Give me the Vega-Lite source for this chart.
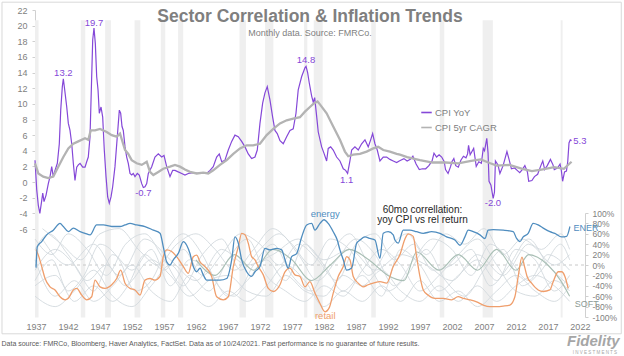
{
"$schema":"https://vega.github.io/schema/vega-lite/v6.json",
"width":550,"height":307,
"autosize":{"type":"none"},
"padding":{"left":35,"top":10,"right":39,"bottom":39},
"background":"white",
"config":{"view":{"stroke":null},"font":"Liberation Sans","axis":{"grid":false,"labelOverlap":false,"labelFlush":false}},
"title":{"text":"Sector Correlation & Inflation Trends","subtitle":"Monthly data. Source: FMRCo.","anchor":"middle","frame":"group","offset":0,"dy":36,"fontSize":17.5,"fontWeight":"bold","color":"#7f7f7f","font":"Liberation Sans","subtitleFont":"Liberation Sans","subtitleFontSize":9,"subtitleColor":"#7f7f7f","subtitlePadding":3},
"datasets":{
"yoy":[{"year":1936.84,"v":2.8},{"year":1937.11,"v":-1.0},{"year":1937.36,"v":-3.0},{"year":1937.6,"v":-4.0},{"year":1937.85,"v":-2.6},{"year":1938.05,"v":-1.4},{"year":1938.25,"v":-2.5},{"year":1938.56,"v":-1.7},{"year":1938.92,"v":-0.2},{"year":1939.19,"v":0.7},{"year":1939.45,"v":1.97},{"year":1939.7,"v":0.7},{"year":1939.97,"v":1.5},{"year":1940.33,"v":2.4},{"year":1940.64,"v":4.9},{"year":1940.86,"v":9.2},{"year":1941.11,"v":12.2},{"year":1941.27,"v":13.2},{"year":1941.48,"v":11.8},{"year":1941.8,"v":9.6},{"year":1942.05,"v":7.5},{"year":1942.31,"v":6.6},{"year":1942.58,"v":4.9},{"year":1942.83,"v":2.4},{"year":1943.09,"v":0.2},{"year":1943.36,"v":1.9},{"year":1943.61,"v":2.2},{"year":1943.88,"v":2.4},{"year":1944.3,"v":1.9},{"year":1944.66,"v":1.9},{"year":1944.92,"v":2.6},{"year":1945.17,"v":3.2},{"year":1945.44,"v":5.8},{"year":1945.7,"v":13.5},{"year":1945.86,"v":18.2},{"year":1946.06,"v":19.7},{"year":1946.27,"v":17.7},{"year":1946.48,"v":13.5},{"year":1946.69,"v":11.8},{"year":1946.89,"v":8.8},{"year":1947.16,"v":9.6},{"year":1947.42,"v":8.3},{"year":1947.67,"v":4.1},{"year":1947.94,"v":0.7},{"year":1948.2,"v":-1.9},{"year":1948.45,"v":-2.7},{"year":1948.72,"v":-1.9},{"year":1948.98,"v":-0.6},{"year":1949.34,"v":1.97},{"year":1949.7,"v":5.8},{"year":1950.02,"v":9.2},{"year":1950.23,"v":8.8},{"year":1950.44,"v":7.1},{"year":1950.64,"v":6.6},{"year":1950.91,"v":4.5},{"year":1951.17,"v":3.2},{"year":1951.42,"v":2.4},{"year":1951.69,"v":1.1},{"year":1951.95,"v":0.9},{"year":1952.2,"v":1.1},{"year":1952.47,"v":0.7},{"year":1952.83,"v":1.1},{"year":1953.14,"v":0.9},{"year":1953.52,"v":-0.2},{"year":1953.77,"v":-0.7},{"year":1954.03,"v":-0.6},{"year":1954.3,"v":-0.2},{"year":1954.55,"v":1.1},{"year":1955.08,"v":1.97},{"year":1955.59,"v":3.2},{"year":1956.11,"v":3.6},{"year":1956.64,"v":3.2},{"year":1957.0,"v":3.4},{"year":1957.42,"v":1.97},{"year":1957.94,"v":0.7},{"year":1958.36,"v":1.5},{"year":1958.72,"v":1.5},{"year":1959.23,"v":1.3},{"year":1959.77,"v":1.1},{"year":1960.28,"v":0.9},{"year":1960.8,"v":1.1},{"year":1961.58,"v":1.2},{"year":1962.36,"v":1.1},{"year":1963.14,"v":1.1},{"year":1963.67,"v":1.1},{"year":1964.19,"v":1.5},{"year":1964.7,"v":1.97},{"year":1965.23,"v":3.2},{"year":1965.64,"v":3.6},{"year":1966.02,"v":2.6},{"year":1966.53,"v":2.8},{"year":1967.05,"v":4.1},{"year":1967.58,"v":5.2},{"year":1968.09,"v":6.0},{"year":1968.61,"v":5.8},{"year":1969.14,"v":5.2},{"year":1969.66,"v":4.5},{"year":1970.17,"v":3.6},{"year":1970.7,"v":3.0},{"year":1971.22,"v":3.2},{"year":1971.58,"v":4.1},{"year":1972.0,"v":7.5},{"year":1972.42,"v":10.1},{"year":1972.78,"v":11.4},{"year":1973.14,"v":12.2},{"year":1973.56,"v":10.5},{"year":1973.98,"v":8.3},{"year":1974.34,"v":6.6},{"year":1974.7,"v":6.2},{"year":1975.13,"v":5.3},{"year":1975.64,"v":4.9},{"year":1976.17,"v":5.8},{"year":1976.69,"v":6.6},{"year":1977.2,"v":6.8},{"year":1977.63,"v":8.8},{"year":1977.98,"v":11.8},{"year":1978.52,"v":13.5},{"year":1979.03,"v":14.6},{"year":1979.2,"v":14.8},{"year":1979.45,"v":14.0},{"year":1979.7,"v":12.7},{"year":1980.08,"v":11.0},{"year":1980.33,"v":10.2},{"year":1980.55,"v":10.8},{"year":1980.86,"v":8.4},{"year":1981.11,"v":6.4},{"year":1981.64,"v":4.5},{"year":1982.0,"v":3.7},{"year":1982.42,"v":2.7},{"year":1982.67,"v":4.3},{"year":1983.05,"v":4.5},{"year":1983.45,"v":4.1},{"year":1983.98,"v":3.2},{"year":1984.5,"v":2.7},{"year":1985.02,"v":1.7},{"year":1985.39,"v":1.5},{"year":1985.7,"v":1.1},{"year":1986.06,"v":2.7},{"year":1986.33,"v":4.1},{"year":1986.84,"v":4.5},{"year":1987.36,"v":4.1},{"year":1987.89,"v":4.9},{"year":1988.41,"v":5.4},{"year":1988.92,"v":4.5},{"year":1989.3,"v":5.4},{"year":1989.61,"v":6.2},{"year":1989.97,"v":4.9},{"year":1990.33,"v":4.1},{"year":1990.75,"v":2.7},{"year":1991.27,"v":3.2},{"year":1991.8,"v":3.2},{"year":1992.31,"v":2.9},{"year":1992.83,"v":2.7},{"year":1993.36,"v":2.5},{"year":1993.77,"v":2.7},{"year":1994.0,"v":2.8},{"year":1994.5,"v":3.0},{"year":1995.0,"v":2.7},{"year":1995.5,"v":2.9},{"year":1995.9,"v":3.3},{"year":1996.4,"v":2.3},{"year":1996.9,"v":1.6},{"year":1997.4,"v":1.7},{"year":1997.9,"v":1.7},{"year":1998.4,"v":2.1},{"year":1998.9,"v":2.7},{"year":1999.2,"v":3.7},{"year":1999.6,"v":3.2},{"year":2000.0,"v":3.5},{"year":2000.4,"v":3.2},{"year":2000.8,"v":2.6},{"year":2001.0,"v":1.6},{"year":2001.4,"v":1.1},{"year":2001.8,"v":2.0},{"year":2002.0,"v":2.6},{"year":2002.3,"v":3.0},{"year":2002.6,"v":2.1},{"year":2003.0,"v":1.9},{"year":2003.4,"v":2.8},{"year":2003.8,"v":3.3},{"year":2004.2,"v":3.1},{"year":2004.45,"v":3.6},{"year":2004.6,"v":4.7},{"year":2004.85,"v":3.5},{"year":2005.4,"v":4.3},{"year":2005.8,"v":2.0},{"year":2006.2,"v":2.6},{"year":2006.6,"v":2.4},{"year":2006.9,"v":4.3},{"year":2007.1,"v":4.0},{"year":2007.45,"v":5.6},{"year":2007.65,"v":3.7},{"year":2007.8,"v":0.1},{"year":2008.1,"v":-0.4},{"year":2008.45,"v":-2.1},{"year":2008.65,"v":-1.3},{"year":2008.8,"v":2.7},{"year":2009.2,"v":2.2},{"year":2009.5,"v":1.1},{"year":2010.0,"v":2.1},{"year":2010.6,"v":3.9},{"year":2010.9,"v":3.0},{"year":2011.3,"v":1.7},{"year":2011.8,"v":1.8},{"year":2012.2,"v":1.5},{"year":2012.6,"v":1.2},{"year":2013.0,"v":1.6},{"year":2013.4,"v":2.1},{"year":2013.8,"v":1.3},{"year":2014.0,"v":0.1},{"year":2014.5,"v":0.2},{"year":2014.9,"v":0.7},{"year":2015.4,"v":1.0},{"year":2015.9,"v":2.1},{"year":2016.2,"v":2.7},{"year":2016.5,"v":1.6},{"year":2016.9,"v":2.1},{"year":2017.4,"v":2.9},{"year":2017.8,"v":2.2},{"year":2018.0,"v":1.6},{"year":2018.5,"v":1.8},{"year":2018.9,"v":2.3},{"year":2019.1,"v":1.5},{"year":2019.3,"v":0.1},{"year":2019.6,"v":1.3},{"year":2019.9,"v":1.4},{"year":2020.1,"v":2.6},{"year":2020.3,"v":5.0},{"year":2020.5,"v":5.4},{"year":2020.7,"v":5.3}],
"cagr":[{"year":1936.84,"v":2.4},{"year":1937.36,"v":1.1},{"year":1938.13,"v":0.7},{"year":1938.92,"v":0.5},{"year":1939.7,"v":0.7},{"year":1940.48,"v":1.97},{"year":1941.27,"v":3.2},{"year":1942.05,"v":4.3},{"year":1942.83,"v":4.9},{"year":1943.61,"v":5.2},{"year":1944.66,"v":5.6},{"year":1945.17,"v":5.4},{"year":1945.55,"v":6.6},{"year":1946.22,"v":6.6},{"year":1947.0,"v":6.8},{"year":1948.05,"v":6.4},{"year":1948.83,"v":6.0},{"year":1949.61,"v":5.8},{"year":1950.13,"v":6.2},{"year":1950.91,"v":4.1},{"year":1951.42,"v":3.6},{"year":1951.95,"v":2.8},{"year":1952.73,"v":2.4},{"year":1953.52,"v":2.2},{"year":1954.3,"v":2.6},{"year":1954.81,"v":1.3},{"year":1955.33,"v":0.9},{"year":1956.11,"v":1.3},{"year":1956.89,"v":1.7},{"year":1957.94,"v":1.97},{"year":1958.72,"v":2.2},{"year":1959.5,"v":1.97},{"year":1960.28,"v":1.6},{"year":1961.06,"v":1.3},{"year":1962.11,"v":1.1},{"year":1963.14,"v":1.2},{"year":1963.92,"v":1.1},{"year":1964.7,"v":1.5},{"year":1965.75,"v":2.2},{"year":1966.8,"v":2.8},{"year":1967.83,"v":3.6},{"year":1968.88,"v":4.3},{"year":1969.92,"v":4.7},{"year":1970.95,"v":4.7},{"year":1972.0,"v":4.9},{"year":1973.05,"v":6.0},{"year":1974.08,"v":6.8},{"year":1975.13,"v":7.5},{"year":1976.17,"v":7.9},{"year":1977.2,"v":8.1},{"year":1978.25,"v":8.3},{"year":1979.03,"v":9.0},{"year":1979.81,"v":9.6},{"year":1980.33,"v":10.0},{"year":1981.0,"v":10.3},{"year":1981.4,"v":9.9},{"year":1982.42,"v":8.8},{"year":1983.45,"v":7.1},{"year":1984.5,"v":5.4},{"year":1985.28,"v":3.9},{"year":1985.8,"v":3.3},{"year":1986.58,"v":3.5},{"year":1987.63,"v":3.6},{"year":1988.67,"v":3.9},{"year":1989.7,"v":4.3},{"year":1990.48,"v":4.5},{"year":1991.27,"v":4.1},{"year":1992.31,"v":3.9},{"year":1993.36,"v":3.6},{"year":1993.88,"v":3.5},{"year":1995.0,"v":3.2},{"year":1997.0,"v":2.8},{"year":1999.0,"v":2.5},{"year":2001.0,"v":2.5},{"year":2003.0,"v":2.4},{"year":2005.0,"v":2.7},{"year":2006.5,"v":2.9},{"year":2008.0,"v":2.4},{"year":2009.0,"v":2.1},{"year":2011.0,"v":2.2},{"year":2013.0,"v":1.7},{"year":2014.5,"v":1.4},{"year":2016.0,"v":1.6},{"year":2018.0,"v":1.9},{"year":2019.5,"v":1.7},{"year":2020.7,"v":2.6}],
"bands":[{"year":1936.84,"year2":1937.4},{"year":1944.0,"year2":1944.7},{"year":1947.8,"year2":1948.7},{"year":1952.4,"year2":1953.3},{"year":1956.5,"year2":1957.2},{"year":1959.2,"year2":1960.0},{"year":1968.8,"year2":1969.8},{"year":1972.8,"year2":1974.1},{"year":1978.9,"year2":1979.4},{"year":1980.4,"year2":1981.8},{"year":1989.4,"year2":1990.1},{"year":2000.1,"year2":2000.8},{"year":2006.8,"year2":2008.4},{"year":2019.0,"year2":2019.3}],
"cpilabels":[{"year":1941.27,"v":13.9,"t":"13.2"},{"year":1946.06,"v":20.3,"t":"19.7"},{"year":1953.77,"v":-1.45,"t":"-0.7"},{"year":1979.19,"v":15.6,"t":"14.8"},{"year":1985.55,"v":0.26,"t":"1.1"},{"year":2008.41,"v":-2.7,"t":"-2.0"},{"year":2022.0,"v":5.2,"t":"5.3"}],
"energy":[{"year":1937.0,"c":-0.05},{"year":1937.2,"c":0.35},{"year":1937.89,"c":0.45},{"year":1938.67,"c":0.58},{"year":1939.7,"c":0.67},{"year":1940.75,"c":0.8},{"year":1941.27,"c":0.74},{"year":1942.05,"c":0.64},{"year":1942.83,"c":0.71},{"year":1943.88,"c":0.64},{"year":1944.66,"c":0.61},{"year":1945.44,"c":0.58},{"year":1946.48,"c":0.77},{"year":1947.52,"c":0.77},{"year":1948.83,"c":0.74},{"year":1950.13,"c":0.74},{"year":1950.91,"c":0.77},{"year":1951.69,"c":0.8},{"year":1952.73,"c":0.77},{"year":1954.03,"c":0.74},{"year":1955.33,"c":0.67},{"year":1956.38,"c":0.61},{"year":1956.89,"c":0.35},{"year":1957.42,"c":0.06},{"year":1957.94,"c":0.0},{"year":1958.45,"c":0.1},{"year":1959.23,"c":0.22},{"year":1960.02,"c":0.45},{"year":1960.55,"c":0.38},{"year":1961.06,"c":0.22},{"year":1961.58,"c":-0.03},{"year":1962.11,"c":-0.13},{"year":1962.63,"c":-0.06},{"year":1963.14,"c":-0.19},{"year":1963.67,"c":-0.29},{"year":1964.7,"c":-0.29},{"year":1965.75,"c":-0.29},{"year":1966.8,"c":-0.26},{"year":1967.58,"c":0.1},{"year":1968.09,"c":0.54},{"year":1968.61,"c":0.42},{"year":1969.14,"c":0.1},{"year":1969.92,"c":-0.13},{"year":1970.7,"c":-0.22},{"year":1971.22,"c":-0.13},{"year":1972.0,"c":-0.03},{"year":1972.78,"c":0.32},{"year":1973.56,"c":0.29},{"year":1974.61,"c":0.32},{"year":1975.39,"c":0.29},{"year":1975.91,"c":0.1},{"year":1976.42,"c":-0.06},{"year":1976.95,"c":0.16},{"year":1977.73,"c":0.22},{"year":1978.52,"c":0.54},{"year":1979.3,"c":0.77},{"year":1980.08,"c":0.8},{"year":1980.59,"c":0.67},{"year":1981.38,"c":0.8},{"year":1982.0,"c":0.87},{"year":1982.67,"c":0.8},{"year":1983.45,"c":0.64},{"year":1984.08,"c":0.48},{"year":1984.5,"c":0.29},{"year":1985.02,"c":0.1},{"year":1985.55,"c":-0.1},{"year":1986.33,"c":-0.06},{"year":1987.11,"c":0.42},{"year":1987.63,"c":0.48},{"year":1988.41,"c":0.54},{"year":1989.19,"c":0.51},{"year":1989.97,"c":0.48},{"year":1990.75,"c":0.13},{"year":1991.27,"c":0.61},{"year":1992.05,"c":0.64},{"year":1992.83,"c":0.58},{"year":1993.09,"c":0.48},{"year":1993.61,"c":0.42},{"year":1994.39,"c":0.67},{"year":1995.44,"c":0.67},{"year":1996.48,"c":0.64},{"year":1997.52,"c":0.61},{"year":1998.83,"c":0.64},{"year":2000.13,"c":0.61},{"year":2001.17,"c":0.54},{"year":2002.47,"c":0.48},{"year":2003.25,"c":0.38},{"year":2004.03,"c":0.54},{"year":2004.55,"c":0.67},{"year":2005.33,"c":0.64},{"year":2006.38,"c":0.58},{"year":2007.16,"c":0.51},{"year":2007.67,"c":0.67},{"year":2008.45,"c":0.68},{"year":2010.02,"c":0.67},{"year":2011.58,"c":0.64},{"year":2012.11,"c":0.51},{"year":2012.63,"c":0.45},{"year":2013.14,"c":0.54},{"year":2013.92,"c":0.61},{"year":2014.7,"c":0.8},{"year":2015.48,"c":0.77},{"year":2016.27,"c":0.71},{"year":2017.31,"c":0.64},{"year":2018.09,"c":0.61},{"year":2019.14,"c":0.54},{"year":2019.92,"c":0.55},{"year":2020.44,"c":0.74}],
"retail":[{"year":1937.0,"c":0.3},{"year":1937.36,"c":0.19},{"year":1937.89,"c":-0.03},{"year":1938.41,"c":-0.26},{"year":1939.19,"c":-0.42},{"year":1939.97,"c":-0.48},{"year":1940.75,"c":-0.61},{"year":1941.53,"c":-0.67},{"year":1942.05,"c":-0.64},{"year":1942.83,"c":-0.48},{"year":1943.36,"c":-0.45},{"year":1944.14,"c":-0.58},{"year":1944.92,"c":-0.67},{"year":1945.7,"c":-0.61},{"year":1946.22,"c":-0.29},{"year":1947.0,"c":-0.42},{"year":1947.78,"c":-0.45},{"year":1948.83,"c":-0.38},{"year":1949.61,"c":-0.26},{"year":1950.23,"c":-0.1},{"year":1950.91,"c":-0.35},{"year":1951.69,"c":-0.45},{"year":1952.47,"c":-0.48},{"year":1953.25,"c":-0.58},{"year":1954.03,"c":-0.29},{"year":1954.81,"c":-0.26},{"year":1955.59,"c":-0.29},{"year":1956.38,"c":-0.22},{"year":1956.89,"c":0.16},{"year":1957.42,"c":0.29},{"year":1958.2,"c":0.26},{"year":1958.98,"c":0.16},{"year":1960.02,"c":-0.03},{"year":1960.8,"c":-0.16},{"year":1961.58,"c":0.16},{"year":1962.11,"c":0.19},{"year":1962.63,"c":0.06},{"year":1963.41,"c":-0.03},{"year":1964.45,"c":-0.22},{"year":1965.23,"c":-0.61},{"year":1966.27,"c":-0.67},{"year":1967.05,"c":-0.61},{"year":1967.83,"c":-0.03},{"year":1968.61,"c":0.35},{"year":1969.14,"c":0.61},{"year":1969.66,"c":0.58},{"year":1970.17,"c":0.42},{"year":1970.7,"c":0.16},{"year":1971.22,"c":0.1},{"year":1971.73,"c":-0.03},{"year":1972.52,"c":-0.19},{"year":1973.3,"c":-0.45},{"year":1974.08,"c":-0.51},{"year":1975.13,"c":-0.38},{"year":1975.91,"c":-0.13},{"year":1976.69,"c":-0.06},{"year":1977.47,"c":-0.19},{"year":1978.25,"c":-0.22},{"year":1979.03,"c":-0.42},{"year":1979.81,"c":-0.32},{"year":1980.59,"c":-0.54},{"year":1981.38,"c":-0.74},{"year":1982.16,"c":-0.9},{"year":1982.83,"c":-0.82},{"year":1983.45,"c":-0.54},{"year":1984.23,"c":-0.22},{"year":1985.02,"c":-0.03},{"year":1985.55,"c":0.16},{"year":1986.06,"c":0.1},{"year":1986.58,"c":-0.22},{"year":1987.36,"c":-0.35},{"year":1988.14,"c":-0.42},{"year":1988.92,"c":-0.38},{"year":1989.7,"c":-0.35},{"year":1990.75,"c":-0.32},{"year":1991.8,"c":-0.35},{"year":1992.83,"c":-0.03},{"year":1993.88,"c":0.2},{"year":1994.66,"c":0.5},{"year":1995.17,"c":0.6},{"year":1995.95,"c":0.55},{"year":1996.48,"c":0.16},{"year":1997.0,"c":-0.22},{"year":1997.52,"c":-0.48},{"year":1998.3,"c":-0.58},{"year":1999.34,"c":-0.64},{"year":2000.64,"c":-0.64},{"year":2001.95,"c":-0.67},{"year":2002.98,"c":-0.61},{"year":2003.77,"c":-0.64},{"year":2004.81,"c":-0.67},{"year":2005.86,"c":-0.71},{"year":2006.89,"c":-0.77},{"year":2007.94,"c":-0.8},{"year":2008.98,"c":-0.8},{"year":2010.02,"c":-0.79},{"year":2011.06,"c":-0.77},{"year":2011.84,"c":-0.61},{"year":2012.36,"c":-0.22},{"year":2012.95,"c":0.15},{"year":2013.35,"c":-0.03},{"year":2013.75,"c":-0.22},{"year":2014.45,"c":-0.35},{"year":2015.48,"c":-0.48},{"year":2016.27,"c":-0.51},{"year":2017.31,"c":-0.48},{"year":2017.83,"c":-0.32},{"year":2018.61,"c":-0.13},{"year":2019.14,"c":-0.13},{"year":2019.66,"c":-0.22},{"year":2020.17,"c":-0.45}],
"soft":[{"year":1962,"c":0.1},{"year":1965,"c":-0.2},{"year":1968,"c":0.2},{"year":1971,"c":-0.1},{"year":1974,"c":0.3},{"year":1977,"c":0.1},{"year":1980,"c":-0.3},{"year":1983,"c":0.0},{"year":1986,"c":0.3},{"year":1989,"c":0.1},{"year":1992,"c":-0.2},{"year":1994.5,"c":-0.3},{"year":1996.5,"c":0.25},{"year":2000,"c":-0.1},{"year":2003,"c":0.2},{"year":2006,"c":-0.1},{"year":2009,"c":0.3},{"year":2012,"c":-0.1},{"year":2014,"c":0.2},{"year":2017,"c":0.0},{"year":2019,"c":-0.3},{"year":2020.4,"c":-0.6}],
"gray":[
{"s":"a","year":1936.84,"c":0.5},{"s":"a","year":1939.5,"c":0.2},{"s":"a","year":1942,"c":0.6},{"s":"a","year":1945,"c":0.3},{"s":"a","year":1948,"c":-0.2},{"s":"a","year":1951,"c":0.4},{"s":"a","year":1954,"c":0.6},{"s":"a","year":1957,"c":0.1},{"s":"a","year":1960,"c":-0.4},{"s":"a","year":1963,"c":0.2},{"s":"a","year":1966,"c":0.5},{"s":"a","year":1969,"c":-0.1},{"s":"a","year":1972,"c":0.3},{"s":"a","year":1975,"c":0.6},{"s":"a","year":1978,"c":0.2},{"s":"a","year":1981,"c":-0.3},{"s":"a","year":1984,"c":0.1},{"s":"a","year":1987,"c":0.5},{"s":"a","year":1990,"c":0.2},{"s":"a","year":1993,"c":-0.4},{"s":"a","year":1996,"c":0.1},{"s":"a","year":1999,"c":0.5},{"s":"a","year":2002,"c":0.3},{"s":"a","year":2005,"c":-0.2},{"s":"a","year":2008,"c":0.4},{"s":"a","year":2011,"c":0.1},{"s":"a","year":2014,"c":-0.3},{"s":"a","year":2017,"c":0.2},{"s":"a","year":2020.4,"c":-0.1},
{"s":"b","year":1936.84,"c":-0.3},{"s":"b","year":1939.5,"c":0.1},{"s":"b","year":1942,"c":-0.5},{"s":"b","year":1944.5,"c":-0.2},{"s":"b","year":1947,"c":0.4},{"s":"b","year":1950,"c":0.1},{"s":"b","year":1952.5,"c":-0.5},{"s":"b","year":1955,"c":-0.3},{"s":"b","year":1957.5,"c":0.3},{"s":"b","year":1960,"c":0.6},{"s":"b","year":1963,"c":0.2},{"s":"b","year":1965.5,"c":-0.4},{"s":"b","year":1968,"c":-0.6},{"s":"b","year":1971,"c":0.0},{"s":"b","year":1974,"c":0.4},{"s":"b","year":1977,"c":-0.2},{"s":"b","year":1980,"c":-0.5},{"s":"b","year":1983,"c":0.2},{"s":"b","year":1986,"c":0.6},{"s":"b","year":1989,"c":0.0},{"s":"b","year":1992,"c":-0.5},{"s":"b","year":1995,"c":-0.2},{"s":"b","year":1998,"c":0.3},{"s":"b","year":2001,"c":-0.3},{"s":"b","year":2004,"c":-0.6},{"s":"b","year":2007,"c":-0.1},{"s":"b","year":2010,"c":0.3},{"s":"b","year":2013,"c":-0.4},{"s":"b","year":2016,"c":-0.1},{"s":"b","year":2019,"c":0.4},{"s":"b","year":2020.4,"c":0.1},
{"s":"c","year":1936.84,"c":0.1},{"s":"c","year":1940,"c":-0.6},{"s":"c","year":1943,"c":-0.3},{"s":"c","year":1946,"c":-0.7},{"s":"c","year":1949,"c":-0.4},{"s":"c","year":1952,"c":0.0},{"s":"c","year":1955,"c":-0.5},{"s":"c","year":1958,"c":-0.7},{"s":"c","year":1961,"c":-0.2},{"s":"c","year":1964,"c":-0.5},{"s":"c","year":1967,"c":0.1},{"s":"c","year":1970,"c":0.5},{"s":"c","year":1973,"c":-0.2},{"s":"c","year":1976,"c":-0.5},{"s":"c","year":1979,"c":-0.7},{"s":"c","year":1982,"c":-0.4},{"s":"c","year":1985,"c":-0.6},{"s":"c","year":1988,"c":-0.1},{"s":"c","year":1991,"c":0.3},{"s":"c","year":1994,"c":0.0},{"s":"c","year":1997,"c":-0.5},{"s":"c","year":2000,"c":-0.2},{"s":"c","year":2003,"c":0.2},{"s":"c","year":2006,"c":0.5},{"s":"c","year":2009,"c":0.0},{"s":"c","year":2012,"c":-0.5},{"s":"c","year":2015,"c":-0.6},{"s":"c","year":2018,"c":-0.3},{"s":"c","year":2020.4,"c":-0.5},
{"s":"d","year":1938,"c":0.7},{"s":"d","year":1941,"c":0.4},{"s":"d","year":1944,"c":0.1},{"s":"d","year":1947,"c":0.6},{"s":"d","year":1950,"c":0.7},{"s":"d","year":1953,"c":0.3},{"s":"d","year":1956,"c":0.0},{"s":"d","year":1959,"c":0.4},{"s":"d","year":1962,"c":0.6},{"s":"d","year":1965,"c":0.3},{"s":"d","year":1968,"c":-0.1},{"s":"d","year":1971,"c":0.3},{"s":"d","year":1974,"c":0.7},{"s":"d","year":1977,"c":0.4},{"s":"d","year":1980,"c":0.0},{"s":"d","year":1983,"c":0.5},{"s":"d","year":1986,"c":0.3},{"s":"d","year":1989,"c":-0.2},{"s":"d","year":1992,"c":0.3},{"s":"d","year":1995,"c":0.6},{"s":"d","year":1998,"c":0.2},{"s":"d","year":2001,"c":0.6},{"s":"d","year":2004,"c":0.4},{"s":"d","year":2007,"c":0.7},{"s":"d","year":2010,"c":0.2},{"s":"d","year":2013,"c":0.5},{"s":"d","year":2016,"c":0.3},{"s":"d","year":2019,"c":0.6},{"s":"d","year":2020.4,"c":0.3},
{"s":"e","year":1936.84,"c":-0.6},{"s":"e","year":1940,"c":-0.8},{"s":"e","year":1943,"c":-0.5},{"s":"e","year":1946,"c":-0.1},{"s":"e","year":1949,"c":-0.6},{"s":"e","year":1952,"c":-0.8},{"s":"e","year":1955,"c":-0.4},{"s":"e","year":1958,"c":0.0},{"s":"e","year":1961,"c":-0.5},{"s":"e","year":1964,"c":-0.8},{"s":"e","year":1967,"c":-0.5},{"s":"e","year":1970,"c":-0.7},{"s":"e","year":1973,"c":-0.4},{"s":"e","year":1976,"c":0.0},{"s":"e","year":1979,"c":-0.3},{"s":"e","year":1982,"c":-0.8},{"s":"e","year":1985,"c":-0.5},{"s":"e","year":1988,"c":-0.7},{"s":"e","year":1991,"c":-0.4},{"s":"e","year":1994,"c":-0.7},{"s":"e","year":1997,"c":-0.3},{"s":"e","year":2000,"c":-0.7},{"s":"e","year":2003,"c":-0.5},{"s":"e","year":2006,"c":-0.8},{"s":"e","year":2009,"c":-0.5},{"s":"e","year":2012,"c":-0.2},{"s":"e","year":2015,"c":-0.5},{"s":"e","year":2018,"c":-0.7},{"s":"e","year":2020.4,"c":-0.4},
{"s":"f","year":1936.84,"c":0.3},{"s":"f","year":1939,"c":0.6},{"s":"f","year":1942,"c":0.2},{"s":"f","year":1945,"c":-0.3},{"s":"f","year":1948,"c":0.0},{"s":"f","year":1951,"c":-0.4},{"s":"f","year":1954,"c":0.2},{"s":"f","year":1957,"c":-0.1},{"s":"f","year":1960,"c":0.3},{"s":"f","year":1963,"c":-0.2},{"s":"f","year":1966,"c":0.2},{"s":"f","year":1969,"c":0.6},{"s":"f","year":1972,"c":0.4},{"s":"f","year":1975,"c":0.0},{"s":"f","year":1978,"c":0.4},{"s":"f","year":1981,"c":0.1},{"s":"f","year":1984,"c":-0.3},{"s":"f","year":1987,"c":0.4},{"s":"f","year":1990,"c":0.6},{"s":"f","year":1993,"c":0.1},{"s":"f","year":1996,"c":0.4},{"s":"f","year":1999,"c":-0.1},{"s":"f","year":2002,"c":0.0},{"s":"f","year":2005,"c":0.3},{"s":"f","year":2008,"c":-0.4},{"s":"f","year":2011,"c":0.0},{"s":"f","year":2014,"c":0.5},{"s":"f","year":2017,"c":0.0},{"s":"f","year":2020.4,"c":-0.4},
{"s":"g","year":1936.84,"c":-0.1},{"s":"g","year":1940,"c":0.3},{"s":"g","year":1943,"c":0.0},{"s":"g","year":1946,"c":-0.5},{"s":"g","year":1949,"c":0.2},{"s":"g","year":1952,"c":-0.1},{"s":"g","year":1955,"c":0.3},{"s":"g","year":1958,"c":-0.4},{"s":"g","year":1961,"c":0.1},{"s":"g","year":1964,"c":-0.1},{"s":"g","year":1967,"c":-0.6},{"s":"g","year":1970,"c":-0.3},{"s":"g","year":1973,"c":0.1},{"s":"g","year":1976,"c":-0.3},{"s":"g","year":1979,"c":0.4},{"s":"g","year":1982,"c":0.0},{"s":"g","year":1985,"c":-0.5},{"s":"g","year":1988,"c":-0.2},{"s":"g","year":1991,"c":-0.6},{"s":"g","year":1994,"c":0.3},{"s":"g","year":1997,"c":0.0},{"s":"g","year":2000,"c":-0.5},{"s":"g","year":2003,"c":-0.2},{"s":"g","year":2006,"c":0.1},{"s":"g","year":2009,"c":-0.3},{"s":"g","year":2012,"c":0.3},{"s":"g","year":2015,"c":0.1},{"s":"g","year":2018,"c":-0.5},{"s":"g","year":2020.4,"c":-0.2},
{"s":"h","year":1936.84,"c":-0.4},{"s":"h","year":1940,"c":-0.2},{"s":"h","year":1943,"c":-0.7},{"s":"h","year":1946,"c":-0.4},{"s":"h","year":1949,"c":-0.7},{"s":"h","year":1952,"c":-0.3},{"s":"h","year":1955,"c":0.1},{"s":"h","year":1958,"c":-0.2},{"s":"h","year":1961,"c":-0.6},{"s":"h","year":1964,"c":-0.3},{"s":"h","year":1967,"c":-0.2},{"s":"h","year":1970,"c":-0.5},{"s":"h","year":1973,"c":-0.6},{"s":"h","year":1976,"c":-0.2},{"s":"h","year":1979,"c":-0.5},{"s":"h","year":1982,"c":-0.6},{"s":"h","year":1985,"c":-0.2},{"s":"h","year":1988,"c":-0.4},{"s":"h","year":1991,"c":-0.1},{"s":"h","year":1994,"c":-0.5},{"s":"h","year":1997,"c":-0.7},{"s":"h","year":2000,"c":-0.4},{"s":"h","year":2003,"c":-0.7},{"s":"h","year":2006,"c":-0.4},{"s":"h","year":2009,"c":-0.7},{"s":"h","year":2012,"c":-0.4},{"s":"h","year":2015,"c":-0.2},{"s":"h","year":2018,"c":-0.4},{"s":"h","year":2020.4,"c":-0.7},
{"s":"i","year":1938,"c":0.5},{"s":"i","year":1942,"c":0.0},{"s":"i","year":1946,"c":0.4},{"s":"i","year":1950,"c":-0.2},{"s":"i","year":1954,"c":0.5},{"s":"i","year":1958,"c":0.1},{"s":"i","year":1962,"c":-0.3},{"s":"i","year":1966,"c":0.3},{"s":"i","year":1970,"c":0.0},{"s":"i","year":1974,"c":0.2},{"s":"i","year":1978,"c":0.5},{"s":"i","year":1982,"c":0.1},{"s":"i","year":1986,"c":0.3},{"s":"i","year":1990,"c":-0.1},{"s":"i","year":1994,"c":0.2},{"s":"i","year":1998,"c":0.0},{"s":"i","year":2002,"c":-0.3},{"s":"i","year":2006,"c":0.2},{"s":"i","year":2010,"c":-0.2},{"s":"i","year":2014,"c":0.4},{"s":"i","year":2018,"c":0.0},{"s":"i","year":2020.4,"c":0.2}
],
"corrlabels":[{"year":1982.2,"c":0.99,"t":"energy","a":"c"},{"year":1982.2,"c":-0.98,"t":"retail","a":"c"},{"year":2021.0,"c":0.71,"t":"ENER","a":"l"},{"year":2021.2,"c":-0.75,"t":"SOFT","a":"l"}],
"notes":[{"year":1997.4,"c":1.05,"t":"60mo correllation:"},{"year":1997.4,"c":0.86,"t":"yoy CPI vs rel return"}]
},
"layer":[
{"layer":[
{"data":{"name":"bands"},"mark":{"type":"rect","color":"#efefef"},"encoding":{
 "x":{"field":"year","type":"quantitative","title":"Data source: FMRCo, Bloomberg, Haver Analytics, FactSet. Data as of 10/24/2021. Past performance is no guarantee of future results.","scale":{"domain":[1936.84,2022.8],"nice":false,"zero":false},"axis":{"values":[1937,1942,1947,1952,1957,1962,1967,1972,1977,1982,1987,1992,1997,2002,2007,2012,2017,2022],"labelExpr":"'' + datum.value","domain":false,"ticks":false,"grid":false,"labelFlush":false,"labelOverlap":false,"labelPadding":5,"labelFontSize":9,"labelColor":"#7f7f7f","labelFont":"Liberation Sans","title":"Data source: FMRCo, Bloomberg, Haver Analytics, FactSet. Data as of 10/24/2021. Past performance is no guarantee of future results.","titleFont":"Liberation Sans","titleFontSize":7,"titleFontWeight":"normal","titleColor":"#595959","titleAnchor":"start","titleAlign":"left","titleBaseline":"middle","titleX":-34,"titleY":26}},
 "x2":{"field":"year2","title":"Data source: FMRCo, Bloomberg, Haver Analytics, FactSet. Data as of 10/24/2021. Past performance is no guarantee of future results."},
 "y":{"datum":20.7,"type":"quantitative","scale":{"domain":[-6,22],"range":[219,0],"nice":false,"zero":false},"axis":{"orient":"left","values":[-6,-4,-2,0,2,4,6,8,10,12,14,16,18,20,22],"labelExpr":"'' + datum.value","grid":false,"title":null,"labelFontSize":9,"labelColor":"#7f7f7f","labelFont":"Liberation Sans","tickColor":"#d0d0d0","domainColor":"#d0d0d0","tickSize":3,"labelPadding":5,"labelOverlap":false,"labelFlush":false}},
 "y2":{"datum":-17.3}}},
{"data":{"values":[{"k":1}]},"mark":{"type":"rect","fillOpacity":0,"stroke":"#d9d9d9","strokeWidth":1},"encoding":{
 "x":{"datum":1931.68,"type":"quantitative","axis":{"values":[1937,1942,1947,1952,1957,1962,1967,1972,1977,1982,1987,1992,1997,2002,2007,2012,2017,2022],"labelExpr":"'' + datum.value","domain":false,"ticks":false,"grid":false,"labelFlush":false,"labelOverlap":false,"labelPadding":5,"labelFontSize":9,"labelColor":"#7f7f7f","labelFont":"Liberation Sans","title":"Data source: FMRCo, Bloomberg, Haver Analytics, FactSet. Data as of 10/24/2021. Past performance is no guarantee of future results.","titleFont":"Liberation Sans","titleFontSize":7,"titleFontWeight":"normal","titleColor":"#595959","titleAnchor":"start","titleAlign":"left","titleBaseline":"middle","titleX":-34,"titleY":26}},
 "x2":{"datum":2028.47},
 "y":{"datum":23.0,"type":"quantitative","axis":{"orient":"left","values":[-6,-4,-2,0,2,4,6,8,10,12,14,16,18,20,22],"labelExpr":"'' + datum.value","grid":false,"title":null,"labelFontSize":9,"labelColor":"#7f7f7f","labelFont":"Liberation Sans","tickColor":"#d0d0d0","domainColor":"#d0d0d0","tickSize":3,"labelPadding":5,"labelOverlap":false,"labelFlush":false}},
 "y2":{"datum":-19.4}}},
{"encoding":{
 "x":{"field":"year","type":"quantitative","title":"Data source: FMRCo, Bloomberg, Haver Analytics, FactSet. Data as of 10/24/2021. Past performance is no guarantee of future results.","axis":{"values":[1937,1942,1947,1952,1957,1962,1967,1972,1977,1982,1987,1992,1997,2002,2007,2012,2017,2022],"labelExpr":"'' + datum.value","domain":false,"ticks":false,"grid":false,"labelFlush":false,"labelOverlap":false,"labelPadding":5,"labelFontSize":9,"labelColor":"#7f7f7f","labelFont":"Liberation Sans","title":"Data source: FMRCo, Bloomberg, Haver Analytics, FactSet. Data as of 10/24/2021. Past performance is no guarantee of future results.","titleFont":"Liberation Sans","titleFontSize":7,"titleFontWeight":"normal","titleColor":"#595959","titleAnchor":"start","titleAlign":"left","titleBaseline":"middle","titleX":-34,"titleY":26}},
 "y":{"field":"v","type":"quantitative","title":null,"scale":{"domain":[-6,22],"range":[219,0],"nice":false,"zero":false},"axis":{"orient":"left","values":[-6,-4,-2,0,2,4,6,8,10,12,14,16,18,20,22],"labelExpr":"'' + datum.value","grid":false,"title":null,"labelFontSize":9,"labelColor":"#7f7f7f","labelFont":"Liberation Sans","tickColor":"#d0d0d0","domainColor":"#d0d0d0","tickSize":3,"labelPadding":5,"labelOverlap":false,"labelFlush":false}}},
 "layer":[
 {"data":{"name":"yoy"},"mark":{"type":"line","strokeWidth":1.2},"encoding":{"color":{"datum":"CPI YoY","scale":{"domain":["CPI YoY","CPI 5yr CAGR"],"range":["#8548d8","#b3b3b3"]},"legend":{"orient":"none","legendX":385,"legendY":96,"title":null,"symbolType":"stroke","symbolSize":110,"symbolStrokeWidth":1.6,"labelFontSize":9.5,"labelColor":"#7f7f7f","labelFont":"Liberation Sans","rowPadding":4,"labelOffset":2,"padding":0}}}},
 {"data":{"name":"cagr"},"mark":{"type":"line","strokeWidth":2.3},"encoding":{"color":{"datum":"CPI 5yr CAGR"}}},
 {"data":{"name":"cpilabels"},"mark":{"type":"text","color":"#8548d8","fontSize":9.5,"font":"Liberation Sans","align":"center","baseline":"middle"},"encoding":{"text":{"field":"t"}}}
 ]}
]},
{"layer":[
{"data":{"values":[{"k":2}]},"mark":{"type":"rule","color":"#c8c8c8","strokeDash":[3,3],"strokeWidth":1},"encoding":{
 "x":{"datum":1936.84,"type":"quantitative","axis":{"values":[1937,1942,1947,1952,1957,1962,1967,1972,1977,1982,1987,1992,1997,2002,2007,2012,2017,2022],"labelExpr":"'' + datum.value","domain":false,"ticks":false,"grid":false,"labelFlush":false,"labelOverlap":false,"labelPadding":5,"labelFontSize":9,"labelColor":"#7f7f7f","labelFont":"Liberation Sans","title":"Data source: FMRCo, Bloomberg, Haver Analytics, FactSet. Data as of 10/24/2021. Past performance is no guarantee of future results.","titleFont":"Liberation Sans","titleFontSize":7,"titleFontWeight":"normal","titleColor":"#595959","titleAnchor":"start","titleAlign":"left","titleBaseline":"middle","titleX":-34,"titleY":26}},
 "x2":{"datum":2022.8},
 "y":{"datum":0,"type":"quantitative","scale":{"domain":[-1,1],"range":[307,203],"nice":false,"zero":false},"axis":{"orient":"right","values":[-1,-0.8,-0.6,-0.4,-0.2,0,0.2,0.4,0.6,0.8,1],"labelExpr":"round(datum.value*100) + '%'","grid":false,"title":null,"labelFontSize":8.5,"labelColor":"#7f7f7f","labelFont":"Liberation Sans","tickColor":"#d0d0d0","domainColor":"#d0d0d0","tickSize":3,"labelPadding":4,"labelOverlap":false,"labelFlush":false}}}},
{"encoding":{
 "x":{"field":"year","type":"quantitative","title":"Data source: FMRCo, Bloomberg, Haver Analytics, FactSet. Data as of 10/24/2021. Past performance is no guarantee of future results.","axis":{"values":[1937,1942,1947,1952,1957,1962,1967,1972,1977,1982,1987,1992,1997,2002,2007,2012,2017,2022],"labelExpr":"'' + datum.value","domain":false,"ticks":false,"grid":false,"labelFlush":false,"labelOverlap":false,"labelPadding":5,"labelFontSize":9,"labelColor":"#7f7f7f","labelFont":"Liberation Sans","title":"Data source: FMRCo, Bloomberg, Haver Analytics, FactSet. Data as of 10/24/2021. Past performance is no guarantee of future results.","titleFont":"Liberation Sans","titleFontSize":7,"titleFontWeight":"normal","titleColor":"#595959","titleAnchor":"start","titleAlign":"left","titleBaseline":"middle","titleX":-34,"titleY":26}},
 "y":{"field":"c","type":"quantitative","title":null,"scale":{"domain":[-1,1],"range":[307,203],"nice":false,"zero":false},"axis":{"orient":"right","values":[-1,-0.8,-0.6,-0.4,-0.2,0,0.2,0.4,0.6,0.8,1],"labelExpr":"round(datum.value*100) + '%'","grid":false,"title":null,"labelFontSize":8.5,"labelColor":"#7f7f7f","labelFont":"Liberation Sans","tickColor":"#d0d0d0","domainColor":"#d0d0d0","tickSize":3,"labelPadding":4,"labelOverlap":false,"labelFlush":false}}},
 "layer":[
 {"data":{"name":"gray"},"mark":{"type":"line","color":"#d3d9de","strokeWidth":1,"interpolate":"monotone","opacity":0.9},"encoding":{"detail":{"field":"s"}}},
 {"data":{"name":"soft"},"mark":{"type":"line","color":"#a9bfb5","strokeWidth":1.1,"interpolate":"monotone"}},
 {"data":{"name":"retail"},"mark":{"type":"line","color":"#ef9e6c","strokeWidth":1.3,"interpolate":"monotone"}},
 {"data":{"name":"energy"},"mark":{"type":"line","color":"#4f8dbf","strokeWidth":1.3,"interpolate":"monotone"}},
 {"data":{"name":"corrlabels"},"transform":[{"filter":"datum.a == 'c'"}],"mark":{"type":"text","fontSize":9.5,"font":"Liberation Sans","align":"center","baseline":"middle"},"encoding":{"text":{"field":"t"},"color":{"field":"t","type":"nominal","scale":{"domain":["energy","retail","ENER","SOFT"],"range":["#4f8dbf","#ef9e6c","#4f8dbf","#8c9a94"]},"legend":null}}},
 {"data":{"name":"corrlabels"},"transform":[{"filter":"datum.a == 'l'"}],"mark":{"type":"text","fontSize":9,"font":"Liberation Sans","align":"left","baseline":"middle"},"encoding":{"text":{"field":"t"},"color":{"field":"t","type":"nominal","legend":null}}},
 {"data":{"name":"notes"},"mark":{"type":"text","fontSize":10,"font":"Liberation Sans","align":"center","baseline":"middle","color":"#262626"},"encoding":{"text":{"field":"t"}}}
 ]},
{"data":{"values":[{"k":3}]},"mark":{"type":"text","fontSize":15,"font":"Liberation Sans","fontWeight":"bold","fontStyle":"italic","align":"right","baseline":"alphabetic","color":"#a6a6a6"},"encoding":{
 "x":{"datum":2028.2,"type":"quantitative","axis":{"values":[1937,1942,1947,1952,1957,1962,1967,1972,1977,1982,1987,1992,1997,2002,2007,2012,2017,2022],"labelExpr":"'' + datum.value","domain":false,"ticks":false,"grid":false,"labelFlush":false,"labelOverlap":false,"labelPadding":5,"labelFontSize":9,"labelColor":"#7f7f7f","labelFont":"Liberation Sans","title":"Data source: FMRCo, Bloomberg, Haver Analytics, FactSet. Data as of 10/24/2021. Past performance is no guarantee of future results.","titleFont":"Liberation Sans","titleFontSize":7,"titleFontWeight":"normal","titleColor":"#595959","titleAnchor":"start","titleAlign":"left","titleBaseline":"middle","titleX":-34,"titleY":26}},
 "y":{"datum":-1.56,"type":"quantitative","axis":{"orient":"right","values":[-1,-0.8,-0.6,-0.4,-0.2,0,0.2,0.4,0.6,0.8,1],"labelExpr":"round(datum.value*100) + '%'","grid":false,"title":null,"labelFontSize":8.5,"labelColor":"#7f7f7f","labelFont":"Liberation Sans","tickColor":"#d0d0d0","domainColor":"#d0d0d0","tickSize":3,"labelPadding":4,"labelOverlap":false,"labelFlush":false}},
 "text":{"value":"Fidelity"}}},
{"data":{"values":[{"k":4}]},"mark":{"type":"text","fontSize":4.5,"font":"Liberation Sans","align":"right","baseline":"middle","color":"#a6a6a6"},"encoding":{
 "x":{"datum":2027.8,"type":"quantitative","axis":{"values":[1937,1942,1947,1952,1957,1962,1967,1972,1977,1982,1987,1992,1997,2002,2007,2012,2017,2022],"labelExpr":"'' + datum.value","domain":false,"ticks":false,"grid":false,"labelFlush":false,"labelOverlap":false,"labelPadding":5,"labelFontSize":9,"labelColor":"#7f7f7f","labelFont":"Liberation Sans","title":"Data source: FMRCo, Bloomberg, Haver Analytics, FactSet. Data as of 10/24/2021. Past performance is no guarantee of future results.","titleFont":"Liberation Sans","titleFontSize":7,"titleFontWeight":"normal","titleColor":"#595959","titleAnchor":"start","titleAlign":"left","titleBaseline":"middle","titleX":-34,"titleY":26}},
 "y":{"datum":-1.685,"type":"quantitative","axis":{"orient":"right","values":[-1,-0.8,-0.6,-0.4,-0.2,0,0.2,0.4,0.6,0.8,1],"labelExpr":"round(datum.value*100) + '%'","grid":false,"title":null,"labelFontSize":8.5,"labelColor":"#7f7f7f","labelFont":"Liberation Sans","tickColor":"#d0d0d0","domainColor":"#d0d0d0","tickSize":3,"labelPadding":4,"labelOverlap":false,"labelFlush":false}},
 "text":{"value":"I N V E S T M E N T S"}}}
]}
],
"resolve":{"scale":{"y":"independent","color":"independent"},"axis":{"y":"independent"}}
}
